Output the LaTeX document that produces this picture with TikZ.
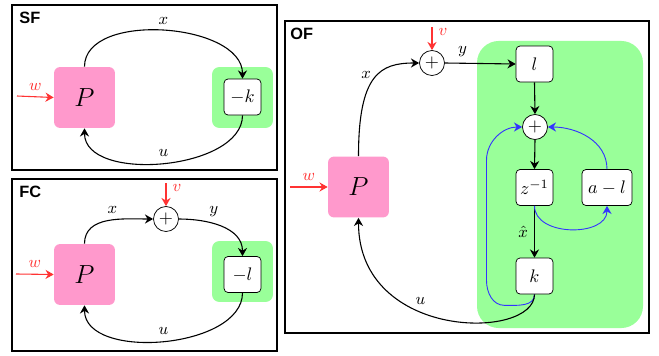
\documentclass[tikz,border=0pt]{standalone}
\usepackage{fontspec}
\newfontfamily\panelfont{Liberation Sans}
\usetikzlibrary{arrows.meta}
\definecolor{plantColor}{HTML}{FF99CC}
\definecolor{ctrlColor}{HTML}{99FF99}
\definecolor{noiseColor}{HTML}{FF3333}
\definecolor{estColor}{HTML}{3333FF}
\tikzset{
	panel/.style={draw, line width=1.4pt},
	paneltitle/.style={anchor=north west, inner sep=0pt, font=\panelfont\bfseries\fontsize{9}{9}\selectfont},
	plant/.style={fill=plantColor, rounded corners=3.3pt, minimum size=33.5pt, inner sep=0pt, font=\Large},
	ctrlbg/.style={fill=ctrlColor, rounded corners=4pt, minimum size=33.5pt, inner sep=0pt},
	gain/.style={draw, fill=white, rounded corners=2.2pt, minimum width=20.3pt, minimum height=19.8pt, inner sep=1pt},
	sumnode/.style={draw, circle, fill=white, minimum size=13.75pt, inner sep=0pt},
	sig/.style={-{Stealth[length=4.5pt,width=5pt]}, semithick},
	noise/.style={sig, noiseColor},
	est/.style={sig, estColor, line width=0.5pt},
	lab/.style={font=\small}
}

\begin{document}
\begin{tikzpicture}[x=0.55pt, y=-0.55pt]
	\useasboundingbox (0,0) rectangle (659,356);
	% SF
	\draw[panel] (12,5) rectangle (277,170);
	\node[paneltitle] (sftitle) at (19,12) {SF};
	\node[plant] (sfP) at (84.5,97.5) {$P$};
	\node[ctrlbg] (sfbg) at (242.5,97.5) {};
	\node[gain] (sfk) at (242.5,97) {$-k$};
	\coordinate (sfw) at (17,96);
	\draw[noise] (sfw) -- node[above, lab] {$w$} (sfP.west);
	\draw[sig] (sfP.north) .. controls +(0,-56) and +(0,-56) .. node[above, lab] {$x$} (sfk.north);
	\draw[sig] (sfk.south) .. controls +(0,55) and +(0,55) .. node[above, lab] {$u$} (sfP.south);

	% FC
	\draw[panel] (12,179) rectangle (277,351);
	\node[paneltitle] (fctitle) at (19,186) {FC};
	\node[plant] (fcP) at (84.5,274.5) {$P$};
	\node[ctrlbg] (fcbg) at (242.5,271.5) {};
	\node[gain] (fcl) at (242.5,274.5) {$-l$};
	\node[sumnode] (fcsum) at (166,219) {$+$};
	\coordinate (fcw) at (16,274);
	\coordinate (fcv) at (166,183);
	\draw[noise] (fcw) -- node[above, lab] {$w$} (fcP.west);
	\draw[noise] (fcv) -- node[right, lab, pos=0.2] {$v$} (fcsum.north);
	\draw[sig] (fcP.north) to[out=90,in=180] node[above, lab, pos=0.55] {$x$} (fcsum.west);
	\draw[sig] (fcsum.east) to[out=0,in=90] node[above, lab, pos=0.4] {$y$} (fcl.north);
	\draw[sig] (fcl.south) .. controls +(0,56) and +(0,56) .. node[above, lab] {$u$} (fcP.south);

	% OF
	\draw[panel] (285,21) rectangle (649,333);
	\node[paneltitle] (oftitle) at (290,28) {OF};
	\node[ctrlbg, rounded corners=12pt, minimum width=91.3pt, minimum height=157.9pt] (ofbg) at (560,184.5) {};
	\node[plant] (ofP) at (358.5,187) {$P$};
	\node[sumnode] (ofsum1) at (432,63) {$+$};
	\node[gain] (ofl) at (534.5,64) {$l$};
	\node[sumnode] (ofsum2) at (535,127) {$+$};
	\node[gain] (ofz) at (534.5,187.5) {$z^{-1}$};
	\node[gain, minimum width=27.5pt] (ofal) at (607,187.5) {$a-l$};
	\node[gain] (ofk) at (534.5,276) {$k$};
	\coordinate (ofw) at (290,187);
	\coordinate (ofv) at (432,27);
	\draw[noise] (ofw) -- node[above, lab] {$w$} (ofP.west);
	\draw[noise] (ofv) -- node[right, lab, pos=0.2] {$v$} (ofsum1.north);
	\draw[sig] (ofP.north) .. controls +(0,-82) and +(-39,0) .. node[left, lab, pos=0.55] {$x$} (ofsum1.west);
	\draw[sig] (ofsum1.east) -- node[above, lab, pos=0.25] {$y$} (ofl.west);
	\draw[sig] (ofl.south) -- (ofsum2.north);
	\draw[sig] (ofsum2.south) -- (ofz.north);
	\draw[sig] (ofz.south) -- node[left, lab] {$\hat{x}$} (ofk.north);
	\draw[est] (ofz.south) to[out=-90,in=-90,looseness=1.1] (ofal.south);
	\draw[est] (ofal.north) to[out=90,in=0] (ofsum2.east);
	\draw[est] (ofk.south) to[out=-90,in=0] ++(-30,11) to[out=180,in=-90] ++(-18,-25) -- ++(0,-120) to[out=90,in=180] (ofsum2.west);
	\draw[sig] (ofk.south) .. controls +(0,46) and +(0,123) .. node[above, lab, pos=0.6] {$u$} (ofP.south);
\end{tikzpicture}
\end{document}
